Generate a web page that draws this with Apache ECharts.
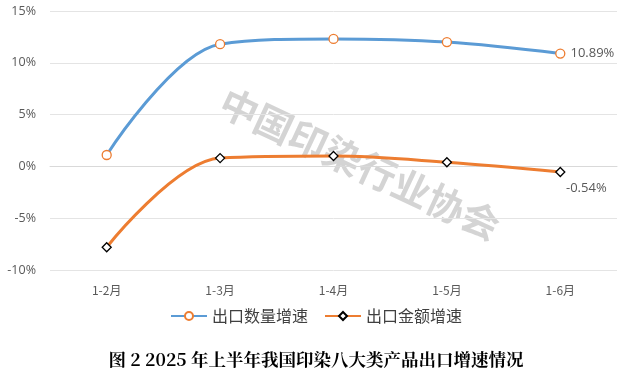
<!DOCTYPE html>
<html><head><meta charset="utf-8">
<script src="https://cdn.jsdelivr.net/npm/echarts@6/dist/echarts.min.js"></script>
<style>html,body{margin:0;padding:0;background:#fff}#c{width:632px;height:379px}</style>
</head><body><div id="c"></div>
<script>
const categories = ['1-2月','1-3月','1-4月','1-5月','1-6月'];
const qtyGrowth = [1.1, 11.8, 12.3, 12.0, 10.89];
const valueGrowth = [-7.8, 0.8, 1.0, 0.4, -0.54];
const yTicks = [-10, -5, 0, 5, 10, 15];
const seriesNames = ['出口数量增速', '出口金额增速'];

const chart = echarts.init(document.getElementById('c'));
const lastLabel = (pos) => ({
  show: true, position: pos, color: '#595959', fontSize: 13, fontFamily: 'Open Sans',
  formatter: p => p.dataIndex === categories.length - 1 ? p.value.toFixed(2) + '%' : ''
});
chart.setOption({
  animation: false,
  grid: { left: 50, right: 15, top: 11, bottom: 109 },
  legend: {
    bottom: 50, left: 'center', itemWidth: 36, itemHeight: 10, itemGap: 16,
    textStyle: { fontSize: 16, color: '#404040', fontFamily: 'Noto Sans CJK SC' },
    data: seriesNames
  },
  graphic: [
    { type: 'text', left: 'center', top: 351,
      style: { text: '图 2 2025 年上半年我国印染八大类产品出口增速情况', fontSize: 17.5, fontWeight: 'bold',
        fill: '#000', fontFamily: 'Noto Serif CJK SC, Noto Sans CJK SC' } },
    { type: 'text', x: 360, y: 164, rotation: -25 * Math.PI / 180, z: 0,
      style: { text: '中国印染行业协会', fontSize: 38, fontWeight: 'bold', fill: 'rgba(160,160,160,0.45)',
        fontFamily: 'Noto Sans CJK SC', align: 'center', verticalAlign: 'middle' } }
  ],
  xAxis: {
    type: 'category', data: categories, boundaryGap: true,
    axisLine: { show: true, lineStyle: { color: '#d9d9d9' } },
    axisTick: { show: false },
    axisLabel: { color: '#595959', fontSize: 12, margin: 14, fontFamily: 'Noto Sans CJK SC' }
  },
  yAxis: {
    type: 'value', min: yTicks[0], max: yTicks[yTicks.length - 1], interval: 5,
    axisLine: { show: false }, axisTick: { show: false },
    splitLine: { lineStyle: { color: '#e4e4e4', width: 1 } },
    axisLabel: { color: '#595959', fontSize: 12.5, margin: 14, fontFamily: 'Open Sans', formatter: '{value}%' }
  },
  series: [
    { name: seriesNames[0], type: 'line', data: qtyGrowth, smooth: 0.35, z: 3,
      symbol: 'circle', symbolSize: 9,
      lineStyle: { color: '#5B9BD5', width: 3 },
      itemStyle: { color: '#fff', borderColor: '#ED7D31', borderWidth: 1.3 },
      label: lastLabel('right') },
    { name: seriesNames[1], type: 'line', data: valueGrowth, smooth: 0.35, z: 3,
      symbol: 'diamond', symbolSize: 9,
      lineStyle: { color: '#ED7D31', width: 3 },
      itemStyle: { color: '#fff', borderColor: '#000', borderWidth: 1.3 },
      label: Object.assign(lastLabel('bottom'), { offset: [26, 0] }) }
  ]
});
</script></body></html>
